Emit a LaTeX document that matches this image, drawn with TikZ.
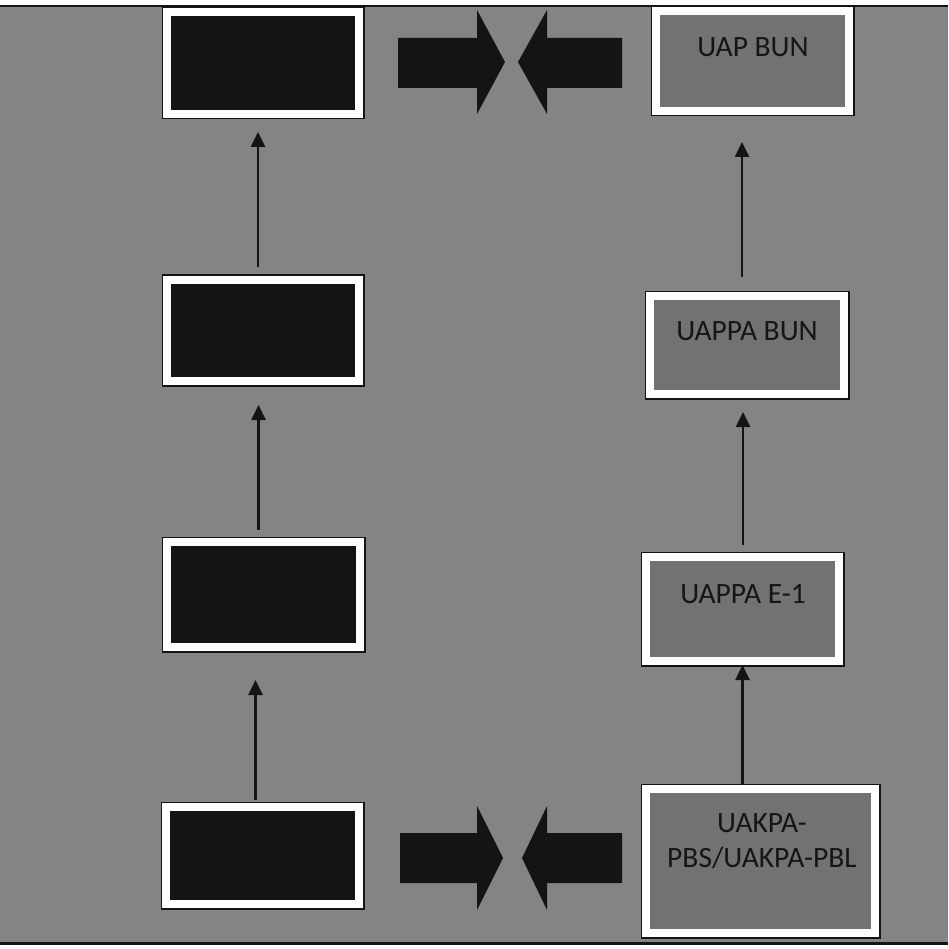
\documentclass[tikz,border=0pt]{standalone}
\usepackage{fontspec}
\setmainfont{Carlito}
\usetikzlibrary{arrows.meta}
\definecolor{bggray}{HTML}{848484}
\definecolor{boxgray}{HTML}{727272}
\definecolor{nearblack}{HTML}{141414}
\definecolor{txt}{HTML}{151515}
\tikzset{
  framebox/.style={rectangle, inner sep=0pt, draw=white, line width=8pt,
    preaction={draw=nearblack, line width=11pt}},
  darkbox/.style={framebox, fill=nearblack},
  graybox/.style={framebox, fill=boxgray},
  lbl/.style={text=txt, font=\fontsize{29.5}{35}\selectfont, align=center, inner sep=0pt},
  varrow/.style={draw=nearblack, line width=2.6pt, -{Triangle[width=14pt,length=15pt]}},
  blockarrow/.style={fill=nearblack, draw=none}
}
\begin{document}
\begin{tikzpicture}[x=1pt,y=-1pt]
\useasboundingbox (0,0) rectangle (948,949);
\fill[bggray] (0,0) rectangle (948,949);
\fill[white] (0,0) rectangle (948,5);
\fill[nearblack] (0,5) rectangle (948,7);
\fill[nearblack] (0,942) rectangle (948,945);
\fill[white] (0,945) rectangle (948,949);

% left column
\node[darkbox, minimum width=192pt, minimum height=102pt] (L1) at (263,63) {};
\node[darkbox, minimum width=192pt, minimum height=101pt] (L2) at (263,330.5) {};
\node[darkbox, minimum width=193pt, minimum height=105pt] (L3) at (263.5,594.5) {};
\node[darkbox, minimum width=193pt, minimum height=97pt] (L4) at (262.5,855.5) {};

% right column
\node[graybox, minimum width=193pt, minimum height=100pt] (R1) at (752.5,61) {};
\node[graybox, minimum width=194pt, minimum height=98pt] (R2) at (747,345) {};
\node[graybox, minimum width=193pt, minimum height=104pt] (R3) at (742.5,609) {};
\node[graybox, minimum width=229pt, minimum height=144pt] (R4) at (760.5,861) {};

\node[lbl] (T1) at (753,47) {UAP BUN};
\node[lbl] (T2) at (747,331) {UAPPA BUN};
\node[lbl] (T3) at (743,594) {UAPPA E-1};
\node[lbl] (T4) at (762,841) {UAKPA-\\PBS/UAKPA-PBL};

% arrow start points
\coordinate (a1) at ([xshift=-5pt]L2.north);
\coordinate (a2) at ([xshift=-5pt]L3.north);
\coordinate (a3) at ([xshift=-7pt]L4.north);
\coordinate (b1) at ([xshift=-5pt]R2.north);
\coordinate (b2) at ([xshift=0.5pt]R3.north);
\coordinate (b3) at (R4.north -| R3.south);

% vertical arrows
\draw[varrow, shorten <=9pt, shorten >=14pt] (a1) -- (a1 |- L1.south);
\draw[varrow, shorten <=8pt, shorten >=20pt] (a2) -- (a2 |- L2.south);
\draw[varrow, shorten <=3pt, shorten >=29pt] (a3) -- (a3 |- L3.south);
\draw[varrow, shorten <=15pt, shorten >=27pt] (b1) -- (b1 |- R1.south);
\draw[varrow, shorten <=8pt, shorten >=14pt] (b2) -- (b2 |- R2.south);
\draw[varrow, shorten <=0pt, shorten >=0pt] (b3) -- (R3.south);

% block arrows top
\fill[blockarrow] (398,38) -- (477,38) -- (477,10) -- (505,62) -- (477,114) -- (477,88) -- (398,88) -- cycle;
\fill[blockarrow] (622,38) -- (547,38) -- (547,10) -- (518,62) -- (547,114) -- (547,88) -- (622,88) -- cycle;
% block arrows bottom
\fill[blockarrow] (400,833) -- (477,833) -- (477,806) -- (503,858) -- (477,910) -- (477,883) -- (400,883) -- cycle;
\fill[blockarrow] (622,833) -- (547,833) -- (547,806) -- (522,858) -- (547,910) -- (547,883) -- (622,883) -- cycle;
\end{tikzpicture}
\end{document}
